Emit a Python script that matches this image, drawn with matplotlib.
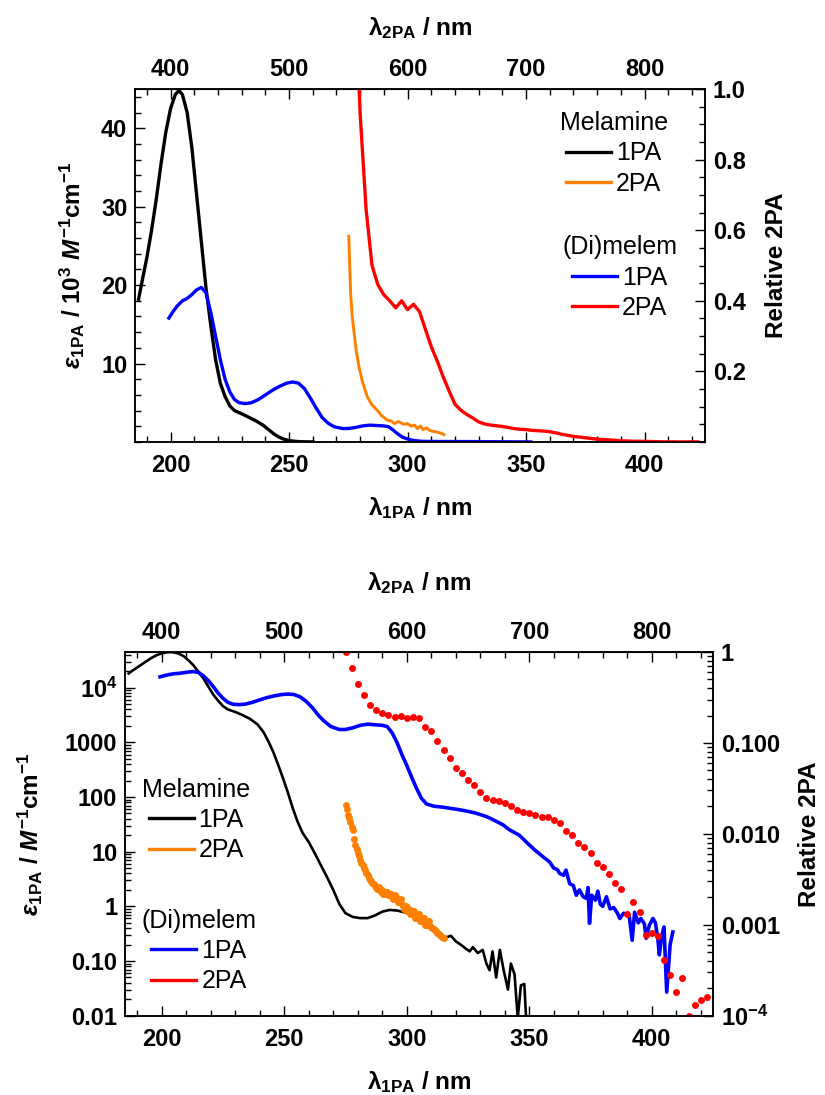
import numpy as np
import matplotlib
matplotlib.use("Agg")
import matplotlib.pyplot as plt
from matplotlib.lines import Line2D
from matplotlib.ticker import MultipleLocator, FixedLocator, FixedFormatter, LogLocator, NullFormatter

plt.rcParams['font.family'] = 'Liberation Sans'
plt.rcParams['font.weight'] = 'bold'
plt.rcParams['mathtext.fontset'] = 'custom'
plt.rcParams['mathtext.rm'] = 'Liberation Sans:bold'
plt.rcParams['mathtext.it'] = 'Liberation Sans:italic:bold'
plt.rcParams['mathtext.bf'] = 'Liberation Sans:bold'
plt.rcParams['mathtext.default'] = 'rm'

# ---- 1PA spectra (M^-1 cm^-1), shared by both panels ----
mel_1pa_wl = [186.5, 188, 190, 192, 194, 196, 198, 200, 202, 203.5, 205, 207, 209, 211, 213,
              215, 217, 219, 221, 223, 225, 227, 230, 233, 236, 239, 241.5, 243.5, 245.5,
              247.5, 249.5, 251.5, 253.5, 255.5, 257.5, 260, 262.5, 265, 267.5, 270, 272.5,
              275, 278, 281, 284, 287, 290, 293, 296, 299, 302, 305, 308, 311, 314, 316, 318,
              320, 322, 324, 325.7, 327, 329, 331, 332.5, 333.8, 335, 336.5, 338, 339.5,
              341.3, 342.5, 344, 345.3, 346.6, 348, 349]
mel_1pa_eps = [18200, 20500, 23500, 27000, 31000, 35500, 39500, 42500, 44300, 44800, 44300,
               42000, 37500, 31500, 25500, 19500, 14800, 10500, 7500, 5800, 4600, 4000, 3600,
               3150, 2700, 2150, 1550, 1050, 670, 390, 220, 120, 62, 35, 22, 15, 9.3, 5.6,
               3.4, 2.0, 1.1, 0.75, 0.64, 0.61, 0.61, 0.68, 0.80, 0.86, 0.84, 0.78, 0.72, 0.60,
               0.48, 0.38, 0.30, 0.27, 0.29, 0.23, 0.20, 0.17, 0.15, 0.18, 0.14, 0.16, 0.09,
               0.068, 0.15, 0.05, 0.16, 0.07, 0.03, 0.09, 0.057, 0.009, 0.036, 0.038, 0.005]

dim_1pa_wl = [199.3, 201, 203, 205, 207, 209, 211, 213, 215, 217, 219, 221, 223, 225, 227, 229,
              231.5, 234, 237, 240, 243, 246, 249, 251.5, 254, 256.5, 259, 261.5, 264, 266.5,
              269, 272.5, 275, 278, 281, 284, 287, 290, 292, 294, 296, 298, 300, 302, 304, 306,
              308, 311, 315, 320, 324, 328, 332.5, 336, 339.3, 342, 346, 348.8, 352, 355, 358.3,
              360, 361.5, 362.4, 364, 365, 366.5, 368, 369.2, 370.5, 372, 373.3, 374, 374.6,
              375.5, 377, 378, 379, 380, 381.5, 383, 384.5, 386, 387, 388.5, 390, 390.9, 392,
              393, 394.5, 395.5, 397, 397.7, 399, 400.5, 401.5, 402.5, 403.1, 404, 405, 406.1,
              407.5, 408.6]
dim_1pa_eps = [15800, 16600, 17400, 18000, 18300, 18800, 19400, 19700, 19000, 16500, 13500,
               10500, 8000, 6400, 5400, 5000, 4900, 5000, 5400, 6000, 6600, 7100, 7500, 7650,
               7500, 6800, 5600, 4300, 3100, 2400, 1950, 1720, 1720, 1850, 2050, 2150, 2100,
               2050, 1950, 1500, 1000, 600, 380, 230, 144, 95, 75, 68, 65, 60, 56, 51, 44, 37,
               31, 25, 20, 15, 11, 8.5, 6.5, 5.0, 4.7, 4.0, 3.7, 4.6, 2.6, 2.4, 1.6, 2.0, 1.5,
               1.4, 2.2, 0.49, 1.6, 1.3, 1.9, 1.1, 1.0, 1.5, 0.9, 0.95, 0.75, 0.6, 0.75, 0.7,
               0.62, 0.24, 0.78, 0.5, 0.6, 0.48, 0.26, 0.45, 0.6, 0.5, 0.25, 0.13, 0.28, 0.42,
               0.027, 0.2, 0.34]

# ---- 2PA, top panel (linear relative scale) ----
mel_2pa_top_wl = [275.2, 275.6, 276, 276.6, 277.3, 278.3, 279.5, 281, 283, 285, 287.2, 289,
                  291.4, 293, 294.5, 296, 297, 298.5, 300, 301.5, 303, 304.1, 305.5, 306.5,
                  308, 309.5, 311, 312.5, 314, 315.3]
mel_2pa_top = [0.583, 0.50, 0.42, 0.36, 0.318, 0.26, 0.213, 0.17, 0.128, 0.105, 0.09, 0.075,
               0.062, 0.06, 0.052, 0.058, 0.055, 0.05, 0.052, 0.045, 0.048, 0.038, 0.045,
               0.035, 0.04, 0.032, 0.03, 0.028, 0.025, 0.021]

dim_2pa_wl = [275, 277.5, 280, 282.5, 285, 287.5, 290, 292.5, 295, 297.5, 300, 302.5, 305,
              307.5, 310, 312.5, 315, 317.5, 320, 322.5, 325, 327.5, 330, 332.5, 335, 337.5,
              340, 342.5, 345, 347.5, 350, 352.5, 355, 357.5, 360, 362.5, 365, 367.5, 370,
              372.5, 375, 377.5, 380, 382.5, 385, 387.5, 390, 392.5, 395, 397.5, 400, 402.5,
              405, 407.5, 410, 412.5, 415, 417.5, 420, 422.5]
dim_2pa_top = [2.0, 1.35, 0.93, 0.66, 0.50, 0.445, 0.417, 0.40, 0.38, 0.40, 0.375, 0.39, 0.37,
               0.32, 0.27, 0.23, 0.185, 0.145, 0.107, 0.09, 0.078, 0.068, 0.057, 0.051, 0.048,
               0.046, 0.044, 0.041, 0.038, 0.036, 0.035, 0.033, 0.032, 0.031, 0.029, 0.026,
               0.022, 0.019, 0.016, 0.014, 0.012, 0.010, 0.008, 0.007, 0.006, 0.005, 0.003,
               0.003, 0.002, 0.002, 0.0017, 0.0015, 0.001, 0.0006, 0.0004, 0.0005, 0.0002,
               0.0003, 0.0003, 0.0003]

# ---- 2PA, bottom panel (log relative scale) ----
mel_2pa_bot_wl = [275, 275.5, 276, 276.5, 277, 277.5, 278, 278.5, 279, 279.5, 280, 280.5, 281,
                  281.5, 282, 282.5, 283, 283.5, 284, 284.5, 285, 285.5, 286, 286.5, 287, 287.5,
                  288, 288.5, 289, 289.5, 290, 290.5, 291, 291.5, 292, 292.5, 293, 293.5, 294,
                  294.5, 295, 295.5, 296, 296.5, 297, 297.5, 298, 298.5, 299, 299.5, 300, 300.5,
                  301, 301.5, 302, 302.5, 303, 303.5, 304, 304.5, 305, 305.5, 306, 306.5, 307,
                  307.5, 308, 308.5, 309, 309.5, 310, 310.5, 311, 311.5, 312, 312.5, 313, 313.5,
                  314, 314.5, 315]
mel_2pa_bot = [0.021, 0.019, 0.016, 0.0148, 0.0135, 0.012, 0.011, 0.0088, 0.0075, 0.0068,
               0.0062, 0.0057, 0.0052, 0.0048, 0.0045, 0.0042, 0.0040, 0.0037, 0.0035, 0.0033,
               0.0031, 0.0030, 0.0029, 0.0028, 0.0027, 0.0026, 0.0025, 0.0026, 0.0024, 0.0023,
               0.0024, 0.0022, 0.0022, 0.0023, 0.0023, 0.0021, 0.0021, 0.0022, 0.0020, 0.0019,
               0.0021, 0.0020, 0.0019, 0.0018, 0.0018, 0.0019, 0.0017, 0.0016, 0.0015, 0.0016,
               0.0014, 0.0015, 0.0015, 0.0013, 0.0013, 0.0014, 0.0014, 0.0012, 0.0012, 0.0013,
               0.0013, 0.0011, 0.0011, 0.0012, 0.0012, 0.0010, 0.0010, 0.0011, 0.0011, 0.00098,
               0.00095, 0.00092, 0.0009, 0.00088, 0.00085, 0.00082, 0.0008, 0.00078, 0.00075,
               0.00074, 0.00072]
dim_2pa_bot = [1.0, 0.665, 0.443, 0.337, 0.262, 0.231, 0.212, 0.203, 0.191, 0.200, 0.189, 0.195,
               0.187, 0.151, 0.135, 0.106, 0.084, 0.0676, 0.0533, 0.0462, 0.039, 0.0343, 0.0288,
               0.0251, 0.0234, 0.0227, 0.0216, 0.0201, 0.0183, 0.0174, 0.017, 0.0163, 0.0155,
               0.0153, 0.0141, 0.0131, 0.0108, 0.0096, 0.0080, 0.0071, 0.0062, 0.0048, 0.0043,
               0.0036, 0.0029, 0.0025, 0.0013, 0.00176, 0.00137, 0.00078, 0.00082, 0.00076,
               0.00041, 0.00028, 0.00018, 0.00026, 0.0001, 0.00013, 0.00015, 0.00016]

BLACK, ORANGE, BLUE, RED = '#000000', '#ff8000', '#0000ff', '#ff0000'
FS = 17          # tick labels
LFS = 17.5       # axis labels
LEG_FS = 18      # legend text

mel_wl = np.array(mel_1pa_wl)
mel_eps = np.array(mel_1pa_eps)
dim_wl = np.array(dim_1pa_wl)
dim_eps = np.array(dim_1pa_eps)

fig = plt.figure(figsize=(8.25, 10.95), dpi=100)


def style_axis(a):
    a.tick_params(which='both', direction='in', labelsize=FS, width=1.0)
    a.tick_params(which='major', length=7)
    a.tick_params(which='minor', length=4)
    for s in a.spines.values():
        s.set_linewidth(1.1)


def add_legends(a, pos1, pos2):
    h1 = [Line2D([], [], color=BLACK, lw=2.4), Line2D([], [], color=ORANGE, lw=2.4)]
    h2 = [Line2D([], [], color=BLUE, lw=2.4), Line2D([], [], color=RED, lw=2.4)]
    kw = dict(frameon=False, handlelength=1.8, handletextpad=0.2, labelspacing=0.25,
              borderpad=0, borderaxespad=0, loc='upper center',
              prop={'size': LEG_FS, 'weight': 'normal'},
              title_fontproperties={'size': LEG_FS, 'weight': 'normal'})
    l1 = a.legend(h1, ['1PA', '2PA'], title='Melamine', bbox_to_anchor=pos1, **kw)
    a.add_artist(l1)
    a.legend(h2, ['1PA', '2PA'], title='(Di)melem', bbox_to_anchor=pos2, **kw)


def top_axis(a, lpad):
    sec = a.secondary_xaxis('top', functions=(lambda x: 2 * x, lambda x: x / 2))
    sec.set_xticks([400, 500, 600, 700, 800])
    sec.xaxis.set_minor_locator(MultipleLocator(20))
    sec.tick_params(which='both', direction='in', labelsize=FS, width=1.0, pad=6)
    sec.tick_params(which='major', length=7)
    sec.tick_params(which='minor', length=4)
    sec.set_xlabel('λ$_{\\mathrm{2PA}}$ / nm', fontsize=LFS, fontweight='bold', labelpad=lpad)
    return sec


# ================= top panel =================
ax = fig.add_axes([135 / 825, 1 - 442 / 1095, 570 / 825, 353 / 1095])
m1 = mel_wl <= 261
m2 = dim_wl <= 354
ax.plot(mel_wl[m1], mel_eps[m1] / 1000, color=BLACK, lw=2.4)
ax.plot(dim_wl[m2], dim_eps[m2] / 1000, color=BLUE, lw=2.4)
ax.set_xlim(185, 425.5)
ax.set_ylim(0, 45)
ax.set_xticks([200, 250, 300, 350, 400])
ax.xaxis.set_minor_locator(MultipleLocator(10))
ax.set_yticks([10, 20, 30, 40])
ax.yaxis.set_minor_locator(MultipleLocator(2))
style_axis(ax)
ax.tick_params(axis='x', pad=9)
ax.tick_params(axis='y', pad=5.5)
ax.set_xlabel('λ$_{\\mathrm{1PA}}$ / nm', fontsize=LFS, fontweight='bold', labelpad=13)
ax.set_ylabel('$\\mathit{\\varepsilon}_{\\mathrm{1PA}}$ / 10$^{\\mathrm{3}}$ '
              '$\\mathit{M}^{\\mathrm{-1}}$cm$^{\\mathrm{-1}}$',
              fontsize=LFS, fontweight='bold', labelpad=10)
top_axis(ax, 16)

ax2 = ax.twinx()
ax2.plot(mel_2pa_top_wl, mel_2pa_top, color=ORANGE, lw=2.1)
ax2.plot(dim_2pa_wl, dim_2pa_top, color=RED, lw=2.4)
ax2.set_ylim(0, 1.0)
ax2.set_yticks([0.2, 0.4, 0.6, 0.8, 1.0])
ax2.yaxis.set_minor_locator(MultipleLocator(0.05))
style_axis(ax2)
ax2.tick_params(axis='y', pad=5.5)
ax2.set_ylabel('Relative 2PA', fontsize=LFS, fontweight='bold', labelpad=14)
add_legends(ax2, (0.840, 0.937), (0.850, 0.585))

# ================= bottom panel =================
bx = fig.add_axes([125 / 825, 1 - 1015.7 / 1095, 588 / 825, 363.7 / 1095])
bx.plot(mel_wl, mel_eps, color=BLACK, lw=1.9)
bx.plot(dim_wl, dim_eps, color=BLUE, lw=2.6)
bx.set_yscale('log')
bx.set_xlim(185, 425)
bx.set_ylim(0.01, 4.5e4)
bx.set_xticks([200, 250, 300, 350, 400])
bx.xaxis.set_minor_locator(MultipleLocator(10))
left_ticks = [0.01, 0.1, 1, 10, 100, 1000, 1e4]
left_labels = ['0.01', '0.10', '1', '10', '100', '1000', '10$^{4}$']
bx.yaxis.set_major_locator(FixedLocator(left_ticks))
bx.yaxis.set_major_formatter(FixedFormatter(left_labels))
bx.yaxis.set_minor_locator(LogLocator(base=10, subs=np.arange(2, 10), numticks=20))
bx.yaxis.set_minor_formatter(NullFormatter())
style_axis(bx)
bx.tick_params(axis='x', pad=9)
bx.tick_params(axis='y', pad=5.5)
bx.set_xlabel('λ$_{\\mathrm{1PA}}$ / nm', fontsize=LFS, fontweight='bold', labelpad=13)
bx.set_ylabel('$\\mathit{\\varepsilon}_{\\mathrm{1PA}}$ / '
              '$\\mathit{M}^{\\mathrm{-1}}$cm$^{\\mathrm{-1}}$',
              fontsize=LFS, fontweight='bold', labelpad=14)
top_axis(bx, 22)

bx2 = bx.twinx()
bx2.plot(mel_2pa_bot_wl, mel_2pa_bot, 'o', color=ORANGE, ms=5, mec='none')
bx2.plot(dim_2pa_wl, dim_2pa_bot, 'o', color=RED, ms=5, mec='none')
bx2.set_yscale('log')
bx2.set_ylim(1e-4, 1)
right_ticks = [1e-4, 1e-3, 1e-2, 1e-1, 1]
right_labels = ['10$^{-4}$', '0.001', '0.010', '0.100', '1']
bx2.yaxis.set_major_locator(FixedLocator(right_ticks))
bx2.yaxis.set_major_formatter(FixedFormatter(right_labels))
bx2.yaxis.set_minor_locator(LogLocator(base=10, subs=np.arange(2, 10), numticks=20))
bx2.yaxis.set_minor_formatter(NullFormatter())
style_axis(bx2)
bx2.tick_params(axis='y', pad=5.5)
bx2.set_ylabel('Relative 2PA', fontsize=LFS, fontweight='bold', labelpad=13)
add_legends(bx2, (0.121, 0.654), (0.126, 0.294))

fig.savefig('out.png', dpi=100)
